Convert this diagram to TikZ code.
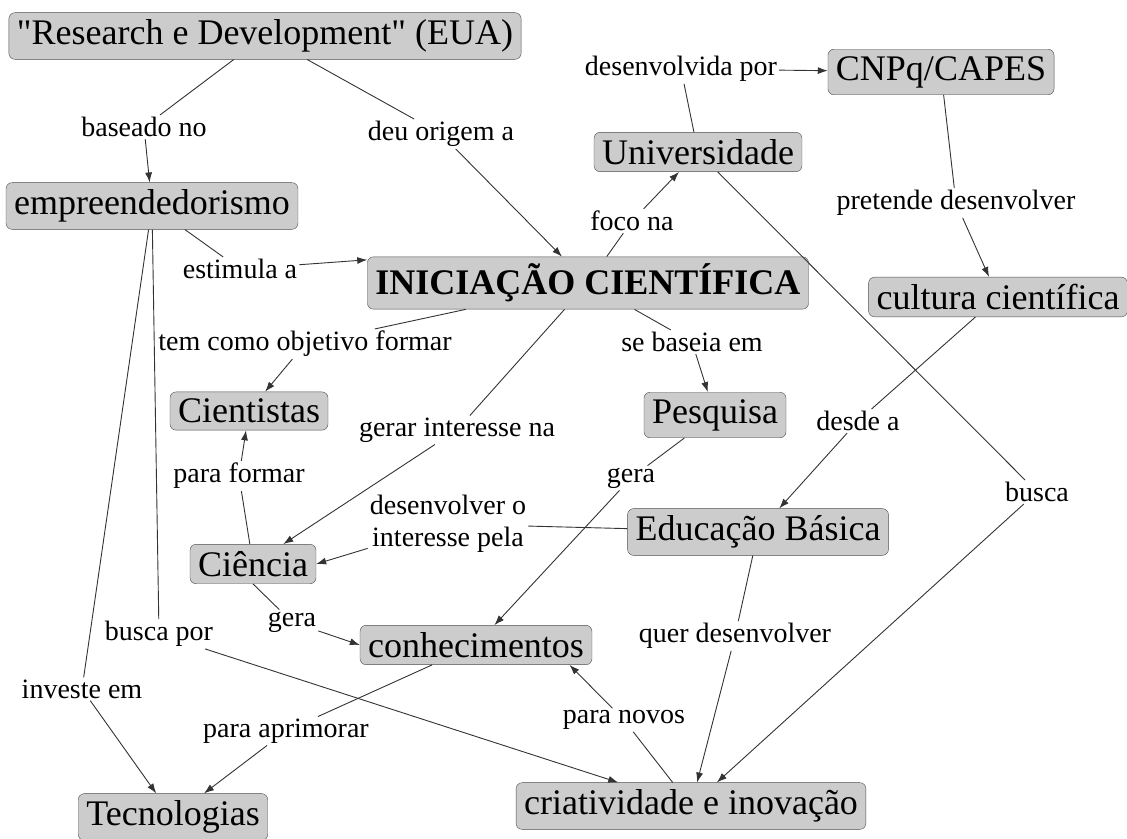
\documentclass[tikz,border=0pt]{standalone}
\usepackage{fontspec}
\setmainfont{Liberation Serif}[Ligatures=TeXOff]
\usepackage{tikz}
\usetikzlibrary{arrows.meta}
\tikzset{
  concept/.style={draw=black!70, fill=black!20, rounded corners=6pt, inner xsep=8pt, inner ysep=7pt, font=\fontsize{36}{40}\selectfont},
  linkword/.style={inner sep=2pt, align=center, font=\fontsize{28}{32}\selectfont},
  tie/.style={draw=black!80, line width=0.9pt},
  arr/.style={tie, -{Latex[length=10pt,width=7pt]}},
}

\begin{document}
\begin{tikzpicture}[x=1pt,y=-1pt]
            \useasboundingbox (0,0) rectangle (1127,838);
            % concepts
            \node [concept] (research) at (265,36) {"Research e Development" (EUA)};
            \node [concept] (empreend) at (152,206) {empreendedorismo};
            \node [concept] (ic) at (588,283) {\textbf{INICIAÇÃO CIENTÍFICA}};
            \node [concept] (univ) at (698,152) {Universidade};
            \node [concept] (cnpq) at (941,72) {CNPq/CAPES};
            \node [concept] (cultura) at (998,297) {cultura científica};
            \node [concept] (cientistas) at (249,411) {Cientistas};
            \node [concept] (pesquisa) at (715,415) {Pesquisa};
            \node [concept] (educacao) at (758,532) {Educação Básica};
            \node [concept] (ciencia) at (253,564) {Ciência};
            \node [concept] (conhec) at (476,645) {conhecimentos};
            \node [concept] (tecno) at (173,817) {Tecnologias};
            \node [concept] (criat) at (691,806) {criatividade e inovação};

            % linking phrases
            \node [linkword] (baseado) at (144,127) {baseado no};
            \node [linkword] (origem) at (441,134) {deu origem a};
            \node [linkword] (estimula) at (240,269) {estimula a};
            \node [linkword] (desenvolvida) at (681,69) {desenvolvida por};
            \node [linkword] (foco) at (632,221) {foco na};
            \node [linkword] (pretende) at (956,203) {pretende desenvolver};
            \node [linkword] (objetivo) at (305,344) {tem como objetivo formar};
            \node [linkword] (baseia) at (692,342) {se baseia em};
            \node [linkword] (interesse) at (457,430) {gerar interesse na};
            \node [linkword] (desde) at (858,421) {desde a};
            \node [linkword] (formar) at (239,476) {para formar};
            \node [linkword] (geraP) at (631,478) {gera};
            \node [linkword] (desenvolver) at (448,524) {desenvolver o\\interesse pela};
            \node [linkword] (busca) at (1037,492) {busca};
            \node [linkword] (geraC) at (292,622) {gera};
            \node [linkword] (buscapor) at (159,634) {busca por};
            \node [linkword] (quer) at (735,636) {quer desenvolver};
            \node [linkword] (investe) at (82,689) {investe em};
            \node [linkword] (aprimorar) at (286,731) {para aprimorar};
            \node [linkword] (novos) at (624,720) {para novos};

            % connections: concept -- phrase -> concept
            \draw [tie] (research) -- (baseado);   \draw [arr] (baseado) -- (empreend);
            \draw [tie] (research) -- (origem);    \draw [arr] (origem) -- (ic);
            \draw [tie] (empreend) -- (estimula);  \draw [arr] (estimula) -- (ic.174);
            \draw [tie] (empreend) -- (investe);   \draw [arr] (investe) -- (tecno);
            \draw [tie] (empreend) -- (buscapor);  \draw [arr] (buscapor) -- (criat);
            \draw [tie] (ic) -- (foco);            \draw [arr] (foco) -- (univ);
            \draw [tie] (univ) -- (desenvolvida);  \draw [arr] (desenvolvida) -- (cnpq);
            \draw [tie] (univ) -- (busca);         \draw [arr] (busca) -- (criat);
            \draw [tie] (cnpq) -- (pretende);      \draw [arr] (pretende) -- (cultura);
            \draw [tie] (cultura) -- (desde);      \draw [arr] (desde) -- (educacao);
            \draw [tie] (ic) -- (objetivo);        \draw [arr] (objetivo) -- (cientistas);
            \draw [tie] (ic) -- (baseia);          \draw [arr] (baseia) -- (pesquisa);
            \draw [tie] (ic) -- (interesse);       \draw [arr] (interesse) -- (ciencia);
            \draw [tie] (ciencia) -- (formar);     \draw [arr] (formar) -- (cientistas);
            \draw [tie] (pesquisa) -- (geraP);     \draw [arr] (geraP) -- (conhec);
            \draw [tie] (educacao) -- (desenvolver); \draw [arr] (desenvolver) -- (ciencia.east);
            \draw [tie] (educacao) -- (quer);      \draw [arr] (quer) -- (criat);
            \draw [tie] (ciencia.south) -- (geraC); \draw [arr] (geraC) -- (conhec.west);
            \draw [tie] (conhec) -- (aprimorar);   \draw [arr] (aprimorar) -- (tecno);
            \draw [tie] (criat) -- (novos);        \draw [arr] (novos) -- (conhec.-12);
        \end{tikzpicture}
\end{document}
